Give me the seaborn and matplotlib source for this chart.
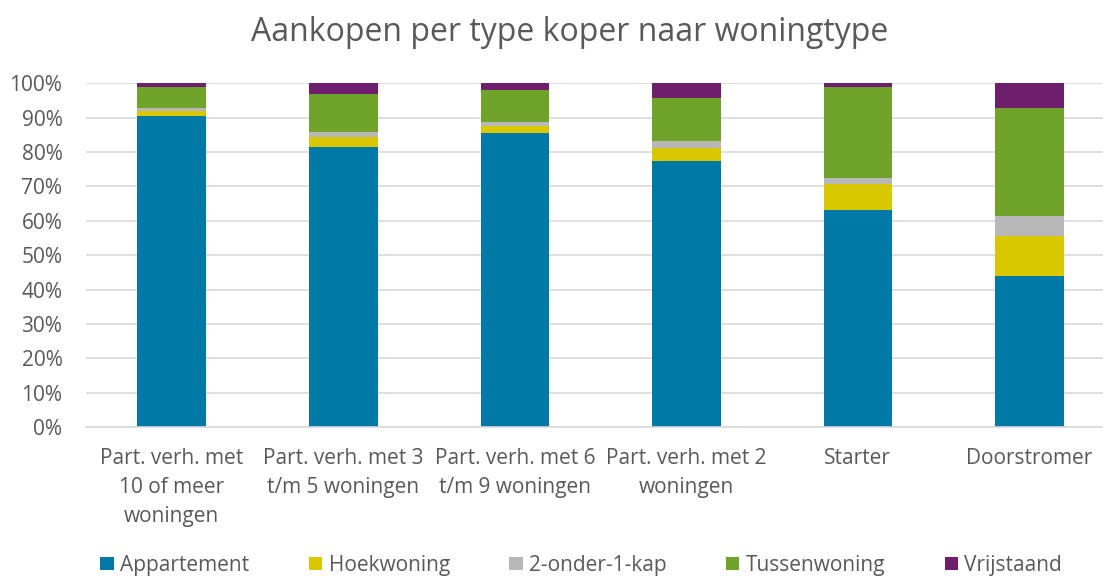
import numpy as np
import pandas as pd
import matplotlib
matplotlib.use("Agg")
import matplotlib.pyplot as plt
import seaborn as sns
from matplotlib.patches import Patch

# Data (percentages per buyer type)
koper_types = [
    "Part. verh. met\n10 of meer\nwoningen",
    "Part. verh. met 3\nt/m 5 woningen",
    "Part. verh. met 6\nt/m 9 woningen",
    "Part. verh. met 2\nwoningen",
    "Starter",
    "Doorstromer",
]
appartement = [90.4, 81.4, 85.5, 77.3, 63.2, 44.0]
hoekwoning = [1.5, 2.9, 2.2, 3.8, 7.4, 11.6]
twee_onder_een_kap = [0.8, 1.5, 1.1, 2.0, 1.8, 5.9]
tussenwoning = [6.2, 11.2, 9.2, 12.7, 26.4, 31.2]
vrijstaand = [1.1, 3.0, 2.0, 4.2, 1.2, 7.3]

series_names = ["Appartement", "Hoekwoning", "2-onder-1-kap", "Tussenwoning", "Vrijstaand"]
series_values = [appartement, hoekwoning, twee_onder_een_kap, tussenwoning, vrijstaand]
colors = ["#0079A7", "#D9C800", "#B8B8B8", "#70A32A", "#6D1F6E"]

sns.set_theme(style="white")
plt.rcParams['font.family'] = ['Open Sans', 'DejaVu Sans']
text_color = "#595959"

# long format + cumulative sums for stacking
df = pd.DataFrame({name: vals for name, vals in zip(series_names, series_values)})
df["koper"] = koper_types
cum = df[series_names].cumsum(axis=1) / 100.0

fig = plt.figure(figsize=(11.03, 5.78), dpi=100)
ax = fig.add_axes([0.078, 0.261, 0.933, 0.595])

# draw tallest cumulative first so lower segments overlap it
for name, col in reversed(list(zip(series_names, colors))):
    sns.barplot(x=df["koper"], y=cum[name], color=col, width=0.40,
                saturation=1, ax=ax, zorder=2, edgecolor="none")

ax.set_ylim(0, 1)
ax.set_xlim(-0.5, 5.5)
ax.set_yticks(np.arange(0, 1.01, 0.1))
ax.set_yticklabels([f"{int(round(v * 100))}%" for v in np.arange(0, 1.01, 0.1)])
ax.yaxis.grid(True, color="#D9D9D9", linewidth=1.2, zorder=0)
ax.set_axisbelow(True)
for s in ["top", "right", "left"]:
    ax.spines[s].set_visible(False)
ax.spines["bottom"].set_color("#D9D9D9")
ax.spines["bottom"].set_linewidth(1.2)
ax.set_xlabel("")
ax.set_ylabel("")
ax.tick_params(axis="x", length=0, labelsize=15, colors=text_color, pad=15)
ax.tick_params(axis="y", length=0, labelsize=15, colors=text_color, pad=17)
for lbl in ax.get_xticklabels():
    lbl.set_linespacing(1.5)
    lbl.set_verticalalignment("top")

fig.suptitle("Aankopen per type koper naar woningtype", x=0.516, y=0.972,
             fontsize=23, color=text_color)

handles = [Patch(facecolor=c, edgecolor="none") for c in colors]
fig.legend(handles, series_names, loc="center", bbox_to_anchor=(0.527, 0.022),
           ncol=5, frameon=False, fontsize=15, labelcolor=text_color,
           handlelength=0.65, handleheight=0.65, handletextpad=0.3, columnspacing=2.85)

fig.savefig("out.png", dpi=100)
